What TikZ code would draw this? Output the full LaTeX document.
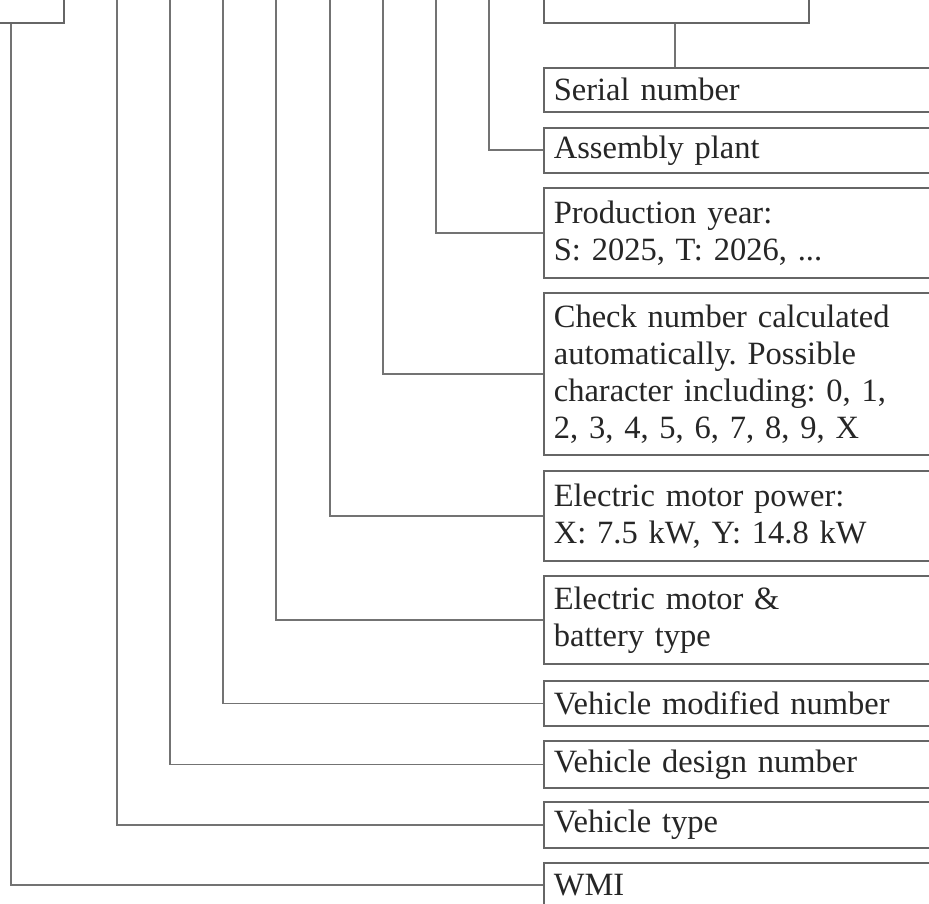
\documentclass[tikz,border=0pt]{standalone}
\usepackage{fontspec}
\setmainfont{Liberation Serif}
\begin{document}
\frenchspacing
\begin{tikzpicture}[x=1pt,y=-1pt,
  box/.style={draw=black!60, line width=1.7pt, anchor=north west, align=left,
    text width=380pt, inner xsep=10pt, inner ysep=0pt, text=black!85,
    font=\fontsize{32.5}{37}\selectfont\frenchspacing},
  topbox/.style={draw=black!60, line width=1.7pt, inner sep=0pt},
  conn/.style={draw=black!55, line width=1.7pt}]
\clip (0,0) rectangle (929,904);
% partial boxes at the top
\node[topbox, minimum width=100pt, minimum height=60pt, anchor=south east] (top1) at (65,24) {};
\node[topbox, minimum width=265pt, minimum height=60pt, anchor=south west] (top2) at (543,24) {};
% description boxes
\node[box, minimum height=44pt] (serial) at (543,67) {Serial number};
\node[box, minimum height=45pt] (plant) at (543,127) {Assembly plant};
\node[box, minimum height=90pt] (year) at (543,187) {Production year:\\S: 2025, T: 2026, ...};
\node[box, minimum height=162pt] (check) at (543,292) {Check number calculated\\automatically. Possible\\character including: 0, 1,\\2, 3, 4, 5, 6, 7, 8, 9, X};
\node[box, minimum height=90pt] (power) at (543,470) {Electric motor power:\\X: 7.5 kW, Y: 14.8 kW};
\node[box, minimum height=88pt] (battery) at (543,575) {Electric motor \&\\battery type};
\node[box, minimum height=45pt] (modified) at (543,680) {Vehicle modified number};
\node[box, minimum height=47pt] (design) at (543,740) {Vehicle design number};
\node[box, minimum height=46pt] (vtype) at (543,801) {Vehicle type};
\node[box, minimum height=44pt] (wmi) at (543,862) {WMI};
% free ends of the connectors at the top
\coordinate (cw) at (11,24);
\coordinate (ct) at (117,-5);
\coordinate (cd) at (170,-5);
\coordinate (cm) at (223,-5);
\coordinate (cb) at (276,-5);
\coordinate (cp) at (330,-5);
\coordinate (cc) at (383,-5);
\coordinate (cy) at (436,-5);
\coordinate (ca) at (489,-5);
\coordinate (cs) at (675,24);
% connectors
\draw[conn] (cw) |- (wmi.west);
\draw[conn] (ct) |- (vtype.west);
\draw[conn] (cd) |- (design.west);
\draw[conn] (cm) |- (modified.west);
\draw[conn] (cb) |- (battery.west);
\draw[conn] (cp) |- (power.west);
\draw[conn] (cc) |- (check.west);
\draw[conn] (cy) |- (year.west);
\draw[conn] (ca) |- (plant.west);
\draw[conn] (cs) -- (cs |- serial.north);
\end{tikzpicture}
\end{document}
